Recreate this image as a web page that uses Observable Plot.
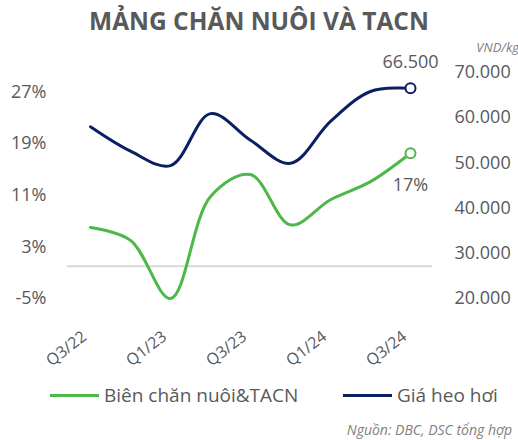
<!DOCTYPE html>
<html>
<head>
<meta charset="utf-8">
<script src="https://cdn.jsdelivr.net/npm/d3@7"></script>
<script src="https://cdn.jsdelivr.net/npm/@observablehq/plot@0.6"></script>
<style>
  body { margin: 0; background: #fff; }
  #wrap { position: relative; width: 518px; height: 440px; font-family: "Open Sans", sans-serif; color: #595959; overflow: hidden; }
  #title { position: absolute; top: 4px; left: 0; width: 518px; text-align: center; font-weight: 700; font-size: 24.5px; color: #595959; }
  #unit { position: absolute; top: 38px; right: -1px; font-style: italic; font-size: 13px; color: #7f7f7f; }
  .leg { position: absolute; top: 382px; font-size: 19px; color: #595959; display: flex; align-items: center; }
  .leg span.sw { display: inline-block; width: 49px; height: 3px; margin-right: 5px; }
  #src { position: absolute; top: 420px; right: 6px; font-style: italic; font-size: 14px; color: #7f7f7f; }
  #chart { position: absolute; top: 0; left: 0; }
</style>
</head>
<body>
<div id="wrap">
  <div id="chart"></div>
  <div id="title">MẢNG CHĂN NUÔI VÀ TACN</div>
  <div id="unit">VND/kg</div>
  <div class="leg" style="left:50px"><span class="sw" style="background:#4DB748"></span>Biên chăn nuôi&amp;TACN</div>
  <div class="leg" style="left:343px"><span class="sw" style="background:#0A2063"></span>Giá heo hơi</div>
  <div id="src">Nguồn: DBC, DSC tổng hợp</div>
</div>
<script>
const quarters = ["Q3/22","Q4/22","Q1/23","Q2/23","Q3/23","Q4/23","Q1/24","Q2/24","Q3/24"];
const margin = [6.0, 4.0, -5.0, 10.8, 14.2, 6.4, 10.3, 13.1, 17.5];      // %
const hogPrice = [58000, 52600, 49400, 60900, 55000, 49900, 59200, 65800, 66500]; // VND/kg
const xTickLabels = ["Q3/22","Q1/23","Q3/23","Q1/24","Q3/24"];
const leftTicks = [-5, 3, 11, 19, 27];
const rightTicks = [20000, 30000, 40000, 50000, 60000, 70000];

const leftDomain = [-5, 30];
const rightDomain = [20000, 70000];
const toLeft = p => leftDomain[0] + (p - rightDomain[0]) / (rightDomain[1] - rightDomain[0]) * (leftDomain[1] - leftDomain[0]);
const fromLeft = v => rightDomain[0] + (v - leftDomain[0]) / (leftDomain[1] - leftDomain[0]) * (rightDomain[1] - rightDomain[0]);

const greenData = quarters.map((q, i) => ({q, v: margin[i]}));
const navyData = quarters.map((q, i) => ({q, v: toLeft(hogPrice[i]), p: hogPrice[i]}));
const lastG = greenData[greenData.length - 1];
const lastN = navyData[navyData.length - 1];

const fmtPrice = d3.format(",.0f");
const vn = s => s.replace(/,/g, ".");

const GREEN = "#4DB748", NAVY = "#0A2063";

const chart = Plot.plot({
  width: 518,
  height: 440,
  marginTop: 72,
  marginBottom: 142,
  marginLeft: 67,
  marginRight: 86,
  style: { fontFamily: "Open Sans, sans-serif", fontSize: "18px", color: "#595959", background: "transparent" },
  x: { type: "point", domain: quarters, padding: 0.5, axis: null },
  y: { domain: leftDomain, axis: null },
  marks: [
    Plot.ruleY([0], { stroke: "#d9d9d9", strokeWidth: 2 }),
    Plot.axisY({ ticks: leftTicks, tickFormat: d => d + "%", tickSize: 0, tickPadding: 21, anchor: "left", label: null, fontSize: 18, fill: "#595959" }),
    Plot.axisY({ ticks: rightTicks.map(toLeft), tickFormat: d => vn(fmtPrice(Math.round(fromLeft(d)))), tickSize: 0, tickPadding: 22, anchor: "right", label: null, fontSize: 18, fill: "#595959" }),
    Plot.text(xTickLabels, { x: d => d, frameAnchor: "bottom", dy: 36, dx: -6, rotate: -38, textAnchor: "end", lineAnchor: "middle", fontSize: 16, fill: "#595959" }),
    Plot.line(greenData, { x: "q", y: "v", stroke: GREEN, strokeWidth: 3, curve: "catmull-rom" }),
    Plot.line(navyData, { x: "q", y: "v", stroke: NAVY, strokeWidth: 3, curve: "catmull-rom" }),
    Plot.dot([lastG], { x: "q", y: "v", r: 5, stroke: GREEN, strokeWidth: 2, fill: "white" }),
    Plot.dot([lastN], { x: "q", y: "v", r: 5, stroke: NAVY, strokeWidth: 2, fill: "white" }),
    Plot.text([lastN], { x: "q", y: "v", text: d => vn(fmtPrice(d.p)), dy: -26, fontSize: 18, fill: "#595959" }),
    Plot.text([lastG], { x: "q", y: "v", text: d => Math.round(d.v - 0.5) + "%", dy: 32, fontSize: 18, fill: "#595959" })
  ]
});
document.getElementById("chart").appendChild(chart);
</script>
</body>
</html>
